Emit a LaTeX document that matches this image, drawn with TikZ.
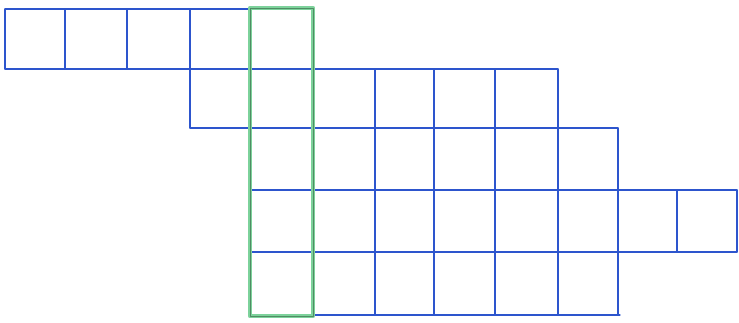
\documentclass[tikz,border=0pt]{standalone}
\begin{document}
\begin{tikzpicture}[x=1pt,y=-1pt,
  gridline/.style={draw=gridblue, line width=1.2pt, line cap=round},
  hilite/.style={draw=hlgreen, line width=4.5pt, line join=round},
  hilitecore/.style={draw=hlcore, line width=0.8pt, line join=round}]
\definecolor{gridblue}{RGB}{45,85,205}
\definecolor{hlgreen}{RGB}{125,210,155}
\definecolor{hlcore}{RGB}{80,140,100}
\useasboundingbox[fill=white] (0,0) rectangle (739,322);
% horizontal lines
\draw[gridline] (5,9) -- (313,9);
\draw[gridline] (5,69) -- (558,69);
\draw[gridline] (190,128) -- (618,128);
\draw[gridline] (250,190) -- (737,190);
\draw[gridline] (250,252) -- (737,252);
\draw[gridline] (250,315) -- (620,315);
% vertical lines
\foreach \x in {5,65,127} \draw[gridline] (\x,9) -- (\x,69);
\draw[gridline] (190,9) -- (190,128);
\foreach \x in {250,313} \draw[gridline] (\x,9) -- (\x,315);
\foreach \x in {375,434,495,558} \draw[gridline] (\x,69) -- (\x,315);
\draw[gridline] (618,128) -- (618,315);
\foreach \x in {677,737} \draw[gridline] (\x,190) -- (\x,252);
% green highlight
\draw[hilite] (250,8) rectangle (313,316);
\draw[hilitecore] (250,8) rectangle (313,316);
\end{tikzpicture}
\end{document}
